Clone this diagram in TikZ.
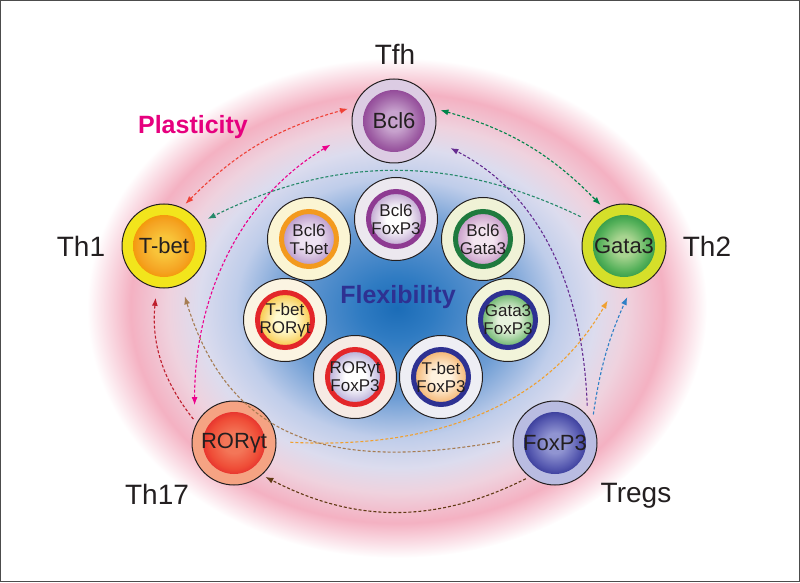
\documentclass[tikz,border=0pt]{standalone}
\usepackage{fontspec}
\setmainfont{Liberation Sans}
\usetikzlibrary{arrows.meta,positioning}

\definecolor{ink}{HTML}{231F20}
\definecolor{plastic}{HTML}{E6007E}
\definecolor{flexible}{HTML}{2E3192}
% halo
\definecolor{h0}{HTML}{1B6CB7}
\definecolor{h1}{HTML}{2F7BC2}
\definecolor{h2}{HTML}{6E9DD4}
\definecolor{h3}{HTML}{BFCDEA}
\definecolor{h4}{HTML}{DCDCEE}
\definecolor{h5}{HTML}{EFD2DE}
\definecolor{h6}{HTML}{F4B1C2}
\definecolor{h7}{HTML}{FADDE5}
% lineage cells
\definecolor{bclR}{HTML}{DCCCE3}\definecolor{bclA}{HTML}{C7A2CD}\definecolor{bclB}{HTML}{A062A6}\definecolor{bclC}{HTML}{8B3C91}
\definecolor{tbtR}{HTML}{F2E51C}\definecolor{tbtA}{HTML}{F8C43A}\definecolor{tbtB}{HTML}{F5A423}\definecolor{tbtC}{HTML}{F39200}
\definecolor{gatR}{HTML}{D5DF2A}\definecolor{gatA}{HTML}{A8D490}\definecolor{gatB}{HTML}{55B15A}\definecolor{gatC}{HTML}{2B9444}
\definecolor{rorR}{HTML}{F5A383}\definecolor{rorA}{HTML}{F37658}\definecolor{rorB}{HTML}{EF4D37}\definecolor{rorC}{HTML}{E3262A}
\definecolor{foxR}{HTML}{B9BCE1}\definecolor{foxA}{HTML}{9094D1}\definecolor{foxB}{HTML}{5659B0}\definecolor{foxC}{HTML}{2E3192}
% mixed cells
\definecolor{btR}{HTML}{FBF5D3}\definecolor{btA}{HTML}{EEE3F2}\definecolor{btB}{HTML}{B08BC2}\definecolor{btC}{HTML}{F39A1E}
\definecolor{bfR}{HTML}{ECE8EF}\definecolor{bfA}{HTML}{FFFFFF}\definecolor{bfB}{HTML}{B496C8}\definecolor{bfC}{HTML}{8E3A92}
\definecolor{bgR}{HTML}{F0F2D6}\definecolor{bgA}{HTML}{F4E6F0}\definecolor{bgB}{HTML}{BE8CC0}\definecolor{bgC}{HTML}{1F7A3E}
\definecolor{trR}{HTML}{FBF4E2}\definecolor{trA}{HTML}{FFFBD2}\definecolor{trB}{HTML}{F6BE2E}\definecolor{trC}{HTML}{E3262A}
\definecolor{gfR}{HTML}{F2F4DA}\definecolor{gfA}{HTML}{E8F3DE}\definecolor{gfB}{HTML}{52A956}\definecolor{gfC}{HTML}{2E3192}
\definecolor{rfR}{HTML}{F6EAE4}\definecolor{rfA}{HTML}{FFFFFF}\definecolor{rfB}{HTML}{A99CD0}\definecolor{rfC}{HTML}{E3262A}
\definecolor{tfR}{HTML}{EEEEF4}\definecolor{tfA}{HTML}{FFF2DE}\definecolor{tfB}{HTML}{F2A85A}\definecolor{tfC}{HTML}{2E3192}
% links
\definecolor{lred}{HTML}{EF4136}
\definecolor{lgreen}{HTML}{00854A}
\definecolor{lteal}{HTML}{26896A}
\definecolor{lmagenta}{HTML}{EC008C}
\definecolor{lpurple}{HTML}{662D91}
\definecolor{lblue}{HTML}{2F80C6}
\definecolor{lorange}{HTML}{F0A030}
\definecolor{ltan}{HTML}{A67C52}
\definecolor{ldarkred}{HTML}{BE1E2D}
\definecolor{lbrown}{HTML}{603913}

\pgfdeclareradialshading{halo}{\pgfpointorigin}{color(0bp)=(h0); color(3bp)=(h1); color(9bp)=(h2); color(13bp)=(h3); color(16bp)=(h4); color(18.5bp)=(h5); color(21.5bp)=(h6); color(23.5bp)=(h7); color(25bp)=(white); color(50bp)=(white)}
\colorlet{ca}{white}\colorlet{cb}{white}\colorlet{cc}{white}
\pgfdeclareradialshading[ca,cb,cc]{core}{\pgfpointorigin}{color(0bp)=(ca); color(6bp)=(ca); color(15bp)=(cb); color(21bp)=(cc); color(50bp)=(cc)}
\pgfdeclareradialshading[ca,cb]{blend}{\pgfpointorigin}{color(0bp)=(ca); color(6bp)=(ca); color(18bp)=(cb); color(50bp)=(cb)}

\tikzset{
  lineage/.style n args={4}{circle, draw=ink, line width=1pt, minimum size=84pt, inner sep=0pt,
    fill=#1, text=ink, font=\fontsize{22}{24}\selectfont,
    path picture={\colorlet{ca}{#2}\colorlet{cb}{#3}\colorlet{cc}{#4}%
      \shade[shading=core] (path picture bounding box.center) circle (31pt);}},
  mixed/.style n args={4}{circle, draw=ink, line width=1pt, minimum size=83pt, inner sep=0pt,
    fill=#1, text=ink, align=center, font=\fontsize{17}{18}\selectfont,
    path picture={\colorlet{ca}{#2}\colorlet{cb}{#3}%
      \shade[shading=blend] (path picture bounding box.center) circle (26pt);
      \draw[#4, line width=5pt] (path picture bounding box.center) circle (27.5pt);}},
  subset/.style={text=ink, anchor=base, font=\fontsize{28}{30}\selectfont},
  link/.style={draw=#1, line width=1.1pt, dash pattern=on 3pt off 2pt},
}

\begin{document}
\begin{tikzpicture}[x=1pt, y=1pt, >={Latex[length=8pt,width=6pt]}]
\useasboundingbox (0,0) rectangle (800,582);

% Background halo and frame
\shade[shading=halo] (397,274) ellipse [x radius=310pt, y radius=250pt];
\draw[gray!60!black, line width=1.2pt] (0.6,0.6) rectangle (799.4,581.4);

% The five lineages
\node[lineage={bclR}{bclA}{bclB}{bclC}] (bcl6) at (394,461) {Bcl6};
\node[lineage={tbtR}{tbtA}{tbtB}{tbtC}] (tbet) at (164,336) {T-bet};
\node[lineage={gatR}{gatA}{gatB}{gatC}] (gata3) at (624,336) {Gata3};
\node[lineage={rorR}{rorA}{rorB}{rorC}] (rorgt) at (234,139) {RORγt};
\node[lineage={foxR}{foxA}{foxB}{foxC}] (foxp3) at (555,139) {FoxP3};

\node[subset] (tfh) at (395,517) {Tfh};
\node[subset] (th1) at (81,326) {Th1};
\node[subset] (th2) at (707,326) {Th2};
\node[subset] (th17) at (157,78) {Th17};
\node[subset] (tregs) at (636,80) {Tregs};

% Double expressing cells in the middle
\node[mixed={bfR}{bfA}{bfB}{bfC}] (bf) at (396,363) {Bcl6\\FoxP3};
\node[mixed={btR}{btA}{btB}{btC}] (bt) at (309,343) {Bcl6\\T-bet};
\node[mixed={bgR}{bgA}{bgB}{bgC}] (bg) at (483,343) {Bcl6\\Gata3};
\node[mixed={trR}{trA}{trB}{trC}] (tr) at (285,262) {T-bet\\RORγt};
\node[mixed={gfR}{gfA}{gfB}{gfC}] (gf) at (508,262) {Gata3\\FoxP3};
\node[mixed={rfR}{rfA}{rfB}{rfC}] (rf) at (355,205) {RORγt\\FoxP3};
\node[mixed={tfR}{tfA}{tfB}{tfC}] (tf) at (441,205) {T-bet\\FoxP3};

\node[text=flexible, font=\fontsize{25}{27}\selectfont\bfseries] (flex) at (398,285) {Flexibility};
\node[text=plastic, font=\fontsize{25}{27}\selectfont\bfseries] (plast) at (193,455) {Plasticity};

% Plasticity links
\draw[link=lred, <->, shorten <=5pt, shorten >=6pt] (tbet.65) to[bend left=15] (bcl6.161);
\draw[link=lgreen, <->, shorten <=6pt, shorten >=5pt] (bcl6.17) to[bend left=15] (gata3.118);
\draw[link=lteal, ->, shorten <=10pt, shorten >=9pt] (gata3.144) to[bend right=26] (tbet.33);
\draw[link=lmagenta, <->, shorten <=22pt, shorten >=26pt] (rorgt.158) to[out=90, in=211] (bcl6.194);
\draw[link=lpurple, ->, shorten <=10pt, shorten >=20pt] (foxp3.40) to[out=92, in=-27] (bcl6.-25);
\draw[link=lblue, ->, shorten <=8pt, shorten >=10pt] (foxp3.29) to[bend left=8] (gata3.-80);
\draw[link=lorange, ->, shorten <=14pt, shorten >=15pt] (rorgt.2) to[out=-3, in=240] (gata3.-102);
\draw[link=ltan, ->, shorten <=13pt, shorten >=12pt] (foxp3.175) to[out=190, in=-73, looseness=1.2] (tbet.-66);
\draw[link=ldarkred, ->, shorten <=5pt, shorten >=10pt] (rorgt.152) to[bend left=22] (tbet.-100);
\draw[link=lbrown, ->, shorten <=4pt, shorten >=4pt] (foxp3.-127) to[bend left=27] (rorgt.-49);

\end{tikzpicture}
\end{document}
